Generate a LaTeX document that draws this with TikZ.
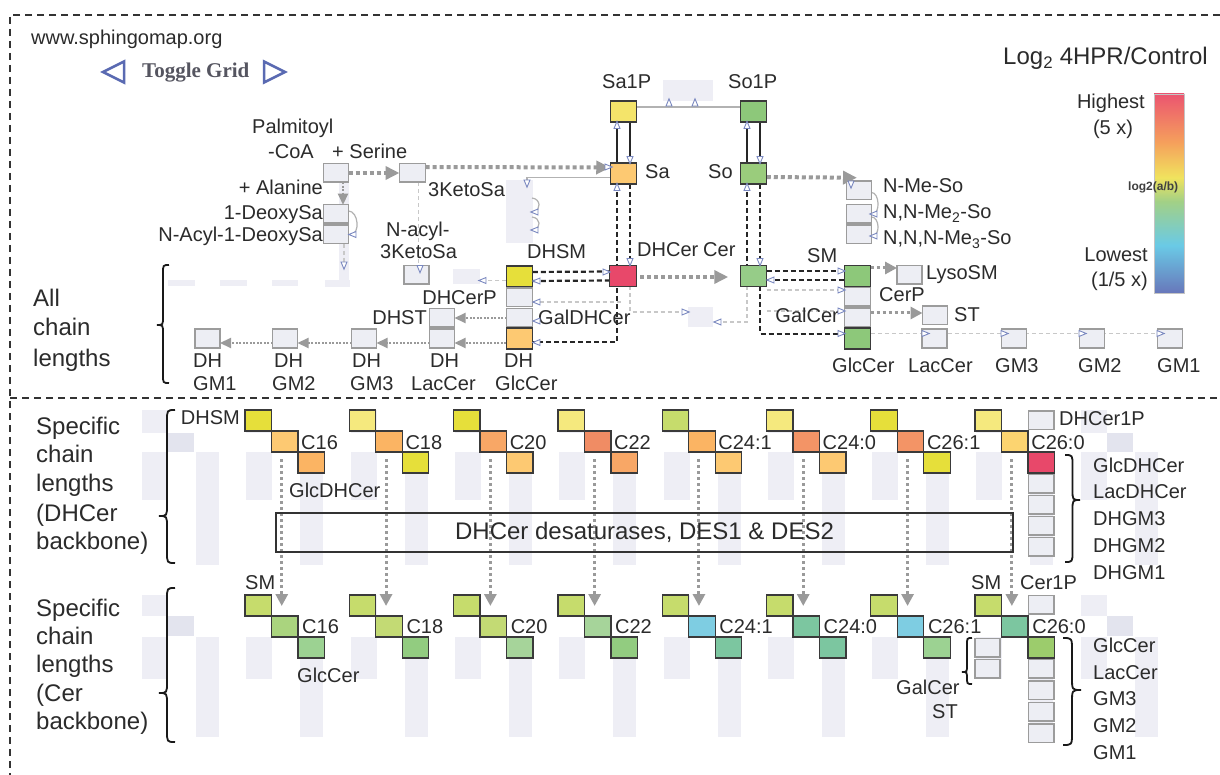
\documentclass[tikz,border=0pt]{standalone}
\usepackage{fontspec}
\setmainfont{Liberation Sans}
\newfontfamily\tgfont{Liberation Serif}
\usetikzlibrary{arrows.meta,calc}
\pgfdeclarelayer{grid}
\pgfdeclarelayer{lines}
\pgfsetlayers{grid,lines,main}
\definecolor{txt}{HTML}{2B2B2B}
\definecolor{boxline}{HTML}{3A3A3A}
\definecolor{gfill}{HTML}{EDEEF4}
\definecolor{gline}{HTML}{9C9C9C}
\definecolor{lav}{HTML}{EEEEF5}
\definecolor{lavd}{HTML}{E3E4EE}
\definecolor{fatg}{HTML}{9A9A9A}
\definecolor{lightl}{HTML}{C8C8C8}
\definecolor{tric}{HTML}{7A88C0}
\definecolor{tgc}{HTML}{5A6AB2}
\definecolor{tgt}{HTML}{555560}
\definecolor{cY}{HTML}{E6DF3A}
\definecolor{cPY}{HTML}{F5E97E}
\definecolor{cLO}{HTML}{FDC972}
\definecolor{cO}{HTML}{FBB463}
\definecolor{cOd}{HTML}{F8A766}
\definecolor{cS}{HTML}{F08C64}
\definecolor{cS2}{HTML}{F39466}
\definecolor{cLY}{HTML}{FCD470}
\definecolor{cYG}{HTML}{C6DC6C}
\definecolor{cYG2}{HTML}{C3DA74}
\definecolor{cR}{HTML}{E8486A}
\definecolor{cG}{HTML}{92CC80}
\definecolor{cG2}{HTML}{9CD292}
\definecolor{cG3}{HTML}{A6D49A}
\definecolor{cG4}{HTML}{AAD47E}
\definecolor{cC}{HTML}{7ECDE2}
\definecolor{cT}{HTML}{7CC6A0}
\definecolor{cGY}{HTML}{9CCC6C}
\definecolor{cSa1P}{HTML}{F4E46A}
\definecolor{cSo1P}{HTML}{8DC87A}
\definecolor{cSo}{HTML}{9ACC7C}
\definecolor{cCer}{HTML}{96CC88}
\definecolor{cSM}{HTML}{8DC87A}
\definecolor{cbR}{HTML}{EB5570}
\definecolor{cbO}{HTML}{F59F5C}
\definecolor{cbY}{HTML}{F0E35E}
\definecolor{cbG}{HTML}{A2D086}
\definecolor{cbC}{HTML}{6ACAE6}
\definecolor{cbB}{HTML}{6877BA}
\pgfdeclareverticalshading{cbar}{100bp}{color(0bp)=(cbB); color(25bp)=(cbB); color(37bp)=(cbC); color(48bp)=(cbG); color(54bp)=(cbY); color(63bp)=(cbO); color(75bp)=(cbR); color(100bp)=(cbR)}
\tikzset{
 cb/.style={draw=boxline, line width=1.3pt, minimum width=26.5pt, minimum height=21pt, inner sep=0pt, outer sep=0pt},
 gb/.style={draw=gline, fill=gfill, line width=1.5pt, minimum width=25pt, minimum height=18.5pt, inner sep=0pt, outer sep=0pt},
 lavn/.style={fill=lav, draw=none, inner sep=0pt, outer sep=0pt},
 lbl/.style={font=\fontsize{20}{23}\selectfont, inner sep=0pt, text=txt},
 bigl/.style={font=\fontsize{24}{28}\selectfont, inner sep=0pt, text=txt},
 ttl/.style={font=\fontsize{24}{28}\selectfont, inner sep=0pt, text=txt},
 tgf/.style={font=\tgfont\bfseries\fontsize{21}{24}\selectfont, inner sep=0pt, text=tgt},
 tgtri/.style={draw=tgc, fill=white, line width=2.5pt, line join=miter},
 fat/.style={draw=fatg, line width=4pt, dash pattern=on 4pt off 3pt, -{Triangle[length=14pt,width=13pt]}},
 midarr/.style={draw=fatg, line width=3pt, dash pattern=on 3pt off 3pt, -{Triangle[length=12pt,width=12pt]}},
 thinarr/.style={draw=fatg, line width=2.2pt, dash pattern=on 2pt off 1.5pt, -{Triangle[length=11pt,width=10pt]}},
 blk/.style={draw=black!85, line width=2.2pt, dash pattern=on 5pt off 3pt},
 lgt/.style={draw=lightl, line width=1.2pt, dash pattern=on 4pt off 3pt},
 sld/.style={draw=black!85, line width=2.2pt},
 gln/.style={draw=black!30, line width=1.2pt},
 tristyle/.style={draw=tric, fill=white, line width=0.9pt, line join=miter},
 brc/.style={draw=black!90, line width=1.8pt},
 bord/.style={draw=black!80, line width=1.3pt, dash pattern=on 7pt off 5pt}
}
\newcommand\smalltri[2]{\draw[tristyle] (#1) +(#2:4.2) -- +(#2+135:4.2) -- +(#2-135:4.2) -- cycle;}
\newcommand\mybrL[5]{\draw[brc] (#1,#2) .. controls (#1-0.5*#5,#2) .. (#1-0.5*#5,#2+0.7*#5) -- (#1-0.5*#5,#3-0.7*#5) .. controls (#1-0.5*#5,#3) .. (#1-#5,#3) .. controls (#1-0.5*#5,#3) .. (#1-0.5*#5,#3+0.7*#5) -- (#1-0.5*#5,#4-0.7*#5) .. controls (#1-0.5*#5,#4) .. (#1,#4);}
\newcommand\mybrR[5]{\draw[brc] (#1,#2) .. controls (#1+0.5*#5,#2) .. (#1+0.5*#5,#2+0.7*#5) -- (#1+0.5*#5,#3-0.7*#5) .. controls (#1+0.5*#5,#3) .. (#1+#5,#3) .. controls (#1+0.5*#5,#3) .. (#1+0.5*#5,#3+0.7*#5) -- (#1+0.5*#5,#4-0.7*#5) .. controls (#1+0.5*#5,#4) .. (#1,#4);}
\newcommand\stair[6]{%
 \node[cb, fill=#4] (#1a) at (#2+13.25,#3+10.5) {};
 \node[cb, fill=#5] (#1b) at (#2+39.75,#3+31.5) {};
 \node[cb, fill=#6] (#1c) at (#2+66.25,#3+52.5) {};}
\begin{document}
\begin{tikzpicture}[x=1pt,y=-1pt]
\useasboundingbox (0,0) rectangle (1220,775);
\begin{pgfonlayer}{grid}
\fill[white] (0,0) rectangle (1220,775);
\foreach \n in {0,...,9}{
 \pgfmathsetmacro\bx{142+104.3*\n}
 \fill[lav] (\bx,410) rectangle ++(26,23);
 \fill[lav] (\bx,452) rectangle ++(26,48);
 \fill[lavd] (\bx+26,433) rectangle ++(26,19);
 \fill[lav] (\bx+54,452) rectangle ++(23,113);
 \fill[lav] (\bx,595) rectangle ++(26,21);
 \fill[lav] (\bx,637) rectangle ++(26,42);
 \fill[lavd] (\bx+26,616) rectangle ++(26,20);
 \fill[lav] (\bx+54,637) rectangle ++(23,100);
}
\fill[lav] (168,280) rectangle (195,286);
\fill[lav] (220,280) rectangle (247,286);
\fill[lav] (272,280) rectangle (298,286);
\fill[lav] (325,280) rectangle (350,287);
\fill[lav] (339,183) rectangle (349,287);
\node[lavn, minimum width=50pt, minimum height=21pt] (lavsp) at (688,90.5) {};
\node[lavn, minimum width=27pt, minimum height=63pt] (lavtop) at (519.5,211.5) {};
\node[lavn, minimum width=25pt, minimum height=20pt] (lavmid) at (700.5,317) {};
\node[lavn, minimum width=27pt, minimum height=15pt] (lavdh) at (466.5,276.5) {};
\end{pgfonlayer}
% frame
\draw[bord] (1220,15) -- (10,15) -- (10,775);
\draw[bord] (10,398) -- (1220,398);
% header
\node[lbl, anchor=base west] (url) at (31,45) {www.sphingomap.org};
\node[tgf, anchor=base west] (tg) at (142,78) {Toggle Grid};
\draw[tgtri] (103,72) -- (124,61.5) -- (124,82.5) -- cycle;
\draw[tgtri] (285,72) -- (264,61.5) -- (264,82.5) -- cycle;
\node[ttl, anchor=base west] (title) at (1003,65) {Log\textsubscript{2} 4HPR/Control};
\shade[shading=cbar] (1154,94) rectangle (1184,293);
\draw[gline!60, line width=0.6pt] (1154,94) rectangle (1184,293);
\node[lbl, anchor=base east] (hi1) at (1145,109) {Highest};
\node[lbl, anchor=base] (hi2) at (1113,135) {(5 x)};
\node[lbl, anchor=base east] (lo1) at (1148,262) {Lowest};
\node[lbl, anchor=base east] (lo2) at (1148,287) {(1/5 x)};
\node[font=\bfseries\fontsize{12}{14}\selectfont, text=black!75, anchor=base west, inner sep=0pt] (lg) at (1128,191) {log2(a/b)};
% top nodes
\node[gb] (palm) at (336,173) {};
\node[gb, minimum width=26pt] (keto) at (412.5,173) {};
\node[gb] (deoxy) at (336,214) {};
\node[gb] (nadeoxy) at (336,234.5) {};
\node[gb] (naketo) at (416.5,275) {};
\node[cb, fill=cSa1P] (sa1p) at (623.5,111.5) {};
\node[cb, fill=cSo1P] (so1p) at (753.5,111.5) {};
\node[cb, fill=cLO] (sa) at (623.5,173.5) {};
\node[cb, fill=cSo] (so) at (753.5,173.5) {};
\node[cb, fill=cR] (dhcer) at (623,276) {};
\node[cb, fill=cCer] (cer) at (753.5,276) {};
\node[cb, fill=cY] (dhsm) at (519.5,276.5) {};
\node[gb, minimum width=26pt] (dhcerp) at (519.5,297.5) {};
\node[gb, minimum width=26pt] (galdhcer) at (519.5,318) {};
\node[cb, fill=cLO] (dhglc) at (519.5,338.5) {};
\node[gb] (dhst) at (442,318) {};
\node[gb] (dhlac) at (442,338.5) {};
\node[gb] (dhgm3) at (364,338.5) {};
\node[gb] (dhgm2) at (285,338.5) {};
\node[gb] (dhgm1) at (207.5,338.5) {};
\node[cb, fill=cSM] (sm) at (857.5,276) {};
\node[gb, minimum width=26pt] (cerp) at (857.5,297) {};
\node[gb, minimum width=26pt] (galcer) at (857.5,317.5) {};
\node[cb, fill=cSM] (glccer) at (857.5,338.5) {};
\node[gb] (lysosm) at (909.5,275) {};
\node[gb] (st) at (935,315.5) {};
\node[gb] (lac) at (934.5,338.5) {};
\node[gb] (gm3) at (1014,338.5) {};
\node[gb] (gm2) at (1092,338.5) {};
\node[gb] (gm1) at (1170,338.5) {};
\node[gb] (nmeso) at (859,190.5) {};
\node[gb] (nnme) at (859,214) {};
\node[gb] (nnnme) at (859,234.5) {};
\coordinate (nmtip) at ($(nmeso.north)+(-2,-3.5)$);
% top labels
\node[lbl, anchor=base west] (lpalm1) at (252,134) {Palmitoyl};
\node[lbl, anchor=base west] (lpalm2) at (268,159) {-CoA};
\node[lbl, anchor=base west] (lser) at (332,159) {+ Serine};
\node[lbl, anchor=base east] (lala) at (323,195) {+ Alanine};
\node[lbl, anchor=base east] (ldeoxy) at (323,220) {1-DeoxySa};
\node[lbl, anchor=base east] (lnadeoxy) at (323,242) {N-Acyl-1-DeoxySa};
\node[lbl, anchor=base west] (lketo) at (428,197) {3KetoSa};
\node[lbl, anchor=base west] (lnak1) at (386,237) {N-acyl-};
\node[lbl, anchor=base west] (lnak2) at (380,259) {3KetoSa};
\node[lbl, anchor=base west] (lsa1p) at (602,89) {Sa1P};
\node[lbl, anchor=base west] (lso1p) at (728,89) {So1P};
\node[lbl, anchor=base west] (lsa) at (645,179) {Sa};
\node[lbl, anchor=base west] (lso) at (708,179) {So};
\node[lbl, anchor=base west] (ldhsm) at (527,259) {DHSM};
\node[lbl, anchor=base west] (ldhcer) at (637,257) {DHCer};
\node[lbl, anchor=base west] (lcer) at (703,257) {Cer};
\node[lbl, anchor=base east] (ldhcerp) at (497,305) {DHCerP};
\node[lbl, anchor=base east] (ldhst) at (427,325) {DHST};
\node[lbl, anchor=base west] (lgaldh) at (538,324) {GalDHCer};
\node[lbl, anchor=base west] (ldh1) at (193,367) {DH};
\node[lbl, anchor=base west] (lgm1d) at (193,390) {GM1};
\node[lbl, anchor=base west] (ldh2) at (274,367) {DH};
\node[lbl, anchor=base west] (lgm2d) at (272,390) {GM2};
\node[lbl, anchor=base west] (ldh3) at (352,367) {DH};
\node[lbl, anchor=base west] (lgm3d) at (350,390) {GM3};
\node[lbl, anchor=base west] (ldh4) at (430,367) {DH};
\node[lbl, anchor=base west] (llacd) at (411,390) {LacCer};
\node[lbl, anchor=base west] (ldh5) at (504,367) {DH};
\node[lbl, anchor=base west] (lglcd) at (495,390) {GlcCer};
\node[lbl, anchor=base west] (lsm) at (807,263) {SM};
\node[lbl, anchor=base west] (lcerp) at (879,302) {CerP};
\node[lbl, anchor=base east] (lgalcer) at (839,323) {GalCer};
\node[lbl, anchor=base west] (llyso) at (926,280) {LysoSM};
\node[lbl, anchor=base west] (lst) at (954,322) {ST};
\node[lbl, anchor=base west] (lglccer) at (832,372) {GlcCer};
\node[lbl, anchor=base west] (llac) at (908,372) {LacCer};
\node[lbl, anchor=base west] (lgm3) at (995,372) {GM3};
\node[lbl, anchor=base west] (lgm2) at (1078,372) {GM2};
\node[lbl, anchor=base west] (lgm1) at (1157,372) {GM1};
\node[lbl, anchor=base west] (lnme) at (883,193) {N-Me-So};
\node[lbl, anchor=base west] (lnnme) at (883,219) {N,N-Me\textsubscript{2}-So};
\node[lbl, anchor=base west] (lnnnme) at (883,245) {N,N,N-Me\textsubscript{3}-So};
% section labels
\node[bigl, anchor=base west] (ta1) at (33,307) {All};
\node[bigl, anchor=base west] (ta2) at (33,336) {chain};
\node[bigl, anchor=base west] (ta3) at (33,366) {lengths};
\node[bigl, anchor=base west] (tb1) at (36,434) {Specific};
\node[bigl, anchor=base west] (tb2) at (36,462) {chain};
\node[bigl, anchor=base west] (tb3) at (36,491) {lengths};
\node[bigl, anchor=base west] (tb4) at (36,521) {(DHCer};
\node[bigl, anchor=base west] (tb5) at (36,549) {backbone)};
\node[bigl, anchor=base west] (tc1) at (36,616) {Specific};
\node[bigl, anchor=base west] (tc2) at (36,644) {chain};
\node[bigl, anchor=base west] (tc3) at (36,672) {lengths};
\node[bigl, anchor=base west] (tc4) at (36,701) {(Cer};
\node[bigl, anchor=base west] (tc5) at (36,729) {backbone)};
\mybrL{169}{265}{325}{383}{12}
\mybrL{175}{410}{516}{563}{16}
\mybrL{175}{588}{693}{742}{16}
\mybrL{972}{638}{672}{684}{10}
\mybrR{1065}{455}{500}{562}{15}
\mybrR{1063}{638}{690}{745}{18}
% staircases
\stair{d1}{245}{410}{cY}{cLO}{cO}
\stair{d2}{349.3}{410}{cPY}{cO}{cY}
\stair{d3}{453.6}{410}{cY}{cOd}{cLO}
\stair{d4}{557.9}{410}{cPY}{cS}{cOd}
\stair{d5}{662.2}{410}{cYG}{cO}{cLO}
\stair{d6}{766.5}{410}{cPY}{cS2}{cLO}
\stair{d7}{870.8}{410}{cY}{cS2}{cY}
\stair{d8}{975.1}{410}{cPY}{cLY}{cR}
\stair{c1}{245}{595}{cYG}{cG4}{cG2}
\stair{c2}{349.3}{595}{cYG}{cYG2}{cG}
\stair{c3}{453.6}{595}{cYG}{cYG2}{cG3}
\stair{c4}{557.9}{595}{cYG}{cG3}{cG}
\stair{c5}{662.2}{595}{cYG}{cC}{cT}
\stair{c6}{766.5}{595}{cYG}{cT}{cT}
\stair{c7}{870.8}{595}{cYG}{cC}{cG2}
\stair{c8}{975.1}{595}{cYG}{cT}{cGY}
\foreach \n/\t in {1/C16,2/C18,3/C20,4/C22,5/C24:1,6/C24:0,7/C26:1,8/C26:0}{
 \node[lbl, anchor=base west] (dl\n) at ($(d\n b.east)+(3,7.5)$) {\t};
 \node[lbl, anchor=base west] (cl\n) at ($(c\n b.east)+(4,7)$) {\t};
}
\node[gb, minimum width=25.5pt] (dhc1p) at (1041.35,420) {};
\foreach \n/\yy in {1/483.5,2/504.5,3/525.5,4/546.5} \node[gb, minimum width=25.5pt] (dcol\n) at (1041.35,\yy) {};
\node[gb, minimum width=25.5pt] (cer1p) at (1041.35,604.5) {};
\foreach \n/\yy in {1/668.5,2/690,3/711.5,4/733} \node[gb, minimum width=25.5pt] (ccol\n) at (1041.35,\yy) {};
\node[gb] (galc2) at (987.5,647.5) {};
\node[gb] (st2) at (987.5,668.5) {};
\node[draw=black!80, line width=1.2pt, minimum width=737pt, minimum height=39pt, inner sep=0pt, font=\fontsize{24}{28}\selectfont, text=txt] (desat) at (644.5,532.5) {DHCer desaturases, DES1 \& DES2};
\node[lbl, anchor=base east] (ldsm) at (240,424) {DHSM};
\node[lbl, anchor=base west] (lglcdh) at (289,497) {GlcDHCer};
\node[lbl, anchor=base west] (lsm1) at (245,589) {SM};
\node[lbl, anchor=base west] (lsm2) at (971,589) {SM};
\node[lbl, anchor=base west] (lcer1p) at (1020,589) {Cer1P};
\node[lbl, anchor=base west] (ldhc1p) at (1059,425) {DHCer1P};
\node[lbl, anchor=base west] (lglcc2) at (297,682) {GlcCer};
\node[lbl, anchor=base west] (lgalc2) at (896,694) {GalCer};
\node[lbl, anchor=base west] (lst2) at (932,718) {ST};
\foreach \n/\t/\yy in {1/GlcDHCer/472,2/LacDHCer/498,3/DHGM3/525,4/DHGM2/552,5/DHGM1/579} \node[lbl, anchor=base west] (dcl\n) at (1093,\yy) {\t};
\foreach \n/\t/\yy in {1/GlcCer/652,2/LacCer/679,3/GM3/705,4/GM2/732,5/GM1/759} \node[lbl, anchor=base west] (ccl\n) at (1093,\yy) {\t};
% connectors
\begin{pgfonlayer}{lines}
\draw[fat] (palm.east) -- (keto.west);
\draw[fat] ([yshift=6pt]keto.east) -- ([yshift=6pt]sa.west);
\draw[thinarr] ($(palm.south)+(7,0)$) -- ($(deoxy.north)+(7,0)$);
\draw[gln] ($(deoxy.east)+(0,-3)$) .. controls +(10,0) and +(10,0) .. ($(nadeoxy.east)+(2,0)$);
\draw[lgt] ($(nadeoxy.south)+(8,0)$) -- ++(0,24);
\draw[lgt] ($(keto.south)+(6,0)$) -- ($(naketo.north)+(2,0)$);
\draw[gln] ($(sa.west)+(0,4)$) -| ($(lavtop.north)+(7.5,0)$);
\draw[gln] (532,198) .. controls (541,199) and (541,210) .. (534,212);
\draw[gln] (532,217) .. controls (541,218) and (541,228) .. (534,230);
\draw[gln] ($(sa1p.east)+(0,-4.5)$) -- ($(so1p.west)+(0,-4.5)$);
\draw[sld] ($(sa1p.south)+(-6.5,0)$) -- ($(sa.north)+(-6.5,0)$);
\draw[sld] ($(sa1p.south)+(6.5,0)$) -- ($(sa.north)+(6.5,0)$);
\draw[sld] ($(so1p.south)+(-6.5,0)$) -- ($(so.north)+(-6.5,0)$);
\draw[sld] ($(so1p.south)+(6.5,0)$) -- ($(so.north)+(6.5,0)$);
\draw[blk] ($(sa.south)+(6.5,0)$) -- ($(dhcer.north)+(7,0)$);
\draw[blk] ($(sa.south)+(-6.5,0)$) |- ($(dhglc.east)+(0,3.5)$);
\draw[blk] ($(so.south)+(-6.5,0)$) -- ($(cer.north)+(-6.5,0)$);
\draw[blk] ($(so.south)+(6.5,0)$) -- ($(cer.north)+(6.5,0)$);
\draw[blk] ($(cer.south)+(6.5,0)$) |- ($(glccer.west)+(0,-4.5)$);
\draw[blk] ($(dhsm.east)+(0,-4.5)$) -- ($(dhcer.west)+(0,-4.5)$);
\draw[blk] ($(dhsm.east)+(0,4.5)$) -- ($(dhcer.west)+(0,4.5)$);
\draw[blk] ($(cer.east)+(0,-5)$) -- ($(sm.west)+(0,-5)$);
\draw[blk] ($(cer.east)+(0,4)$) -- ($(sm.west)+(0,4)$);
\draw[fat] ($(dhcer.east)+(4,1)$) -- ($(cer.west)+(-12,1)$);
\coordinate (dcpy) at ($(dhcerp.east)+(0,4.5)$);
\draw[lgt] (dcpy) -- (dhcer.south |- dcpy);
\draw[lgt] ($(dhcer.south)+(7,0)$) |- ($(lavmid.west)+(0,-5)$);
\draw[lgt] ($(cer.south)+(-6.5,0)$) |- ($(lavmid.east)+(0,5)$);
\coordinate (cpy) at ($(cerp.west)+(0,-7)$);
\draw[lgt] (cer.east |- cpy) -- (cpy);
\coordinate (gcy) at ($(galcer.west)+(0,-6.5)$);
\draw[lgt] (cer.south east |- gcy) -- (gcy);
\draw[lgt] ($(dhsm.west)+(0,4)$) -- ($(lavdh.east)+(0,4)$);
\draw[lgt] ($(glccer.east)+(0,-5)$) -- ($(gm1.west)+(0,-5)$);
\draw[midarr] ($(sm.east)+(0,-8)$) -- ($(lysosm.west)+(0,-7)$);
\draw[midarr] ($(galcer.east)+(0,-4.5)$) -- ($(st.west)+(0,-2.5)$);
\draw[fat] (so.east) ++(0,3.5) -- (nmtip);
\draw[gln] ($(nmeso.east)+(0,2)$) .. controls +(8,0) and +(8,0) .. ($(nnme.east)+(1,0)$);
\draw[gln] ($(nnme.east)+(0,3)$) .. controls +(8,0) and +(8,0) .. ($(nnnme.east)+(1,1)$);
\draw[thinarr] ($(dhglc.west)+(0,4.5)$) -- ($(dhlac.east)+(0,4.5)$);
\draw[thinarr] ($(dhlac.west)+(0,4.5)$) -- ($(dhgm3.east)+(0,4.5)$);
\draw[thinarr] ($(dhgm3.west)+(0,4.5)$) -- ($(dhgm2.east)+(0,4.5)$);
\draw[thinarr] ($(dhgm2.west)+(0,4.5)$) -- ($(dhgm1.east)+(0,4.5)$);
\draw[thinarr] (galdhcer.west) -- (dhst.east);
\foreach \n in {1,...,8} \draw[midarr] ($(d\n b.south)+(-3,7)$) -- ($(c\n b.north)+(-3,-10)$);
\end{pgfonlayer}
% small open triangles
\smalltri{669,103}{270} \smalltri{695,103}{270}
\smalltri{617,125.5}{270} \smalltri{630,159.5}{90}
\smalltri{747,125.5}{270} \smalltri{760,159.5}{90}
\smalltri{608,167}{0}
\smalltri{617,187.5}{270} \smalltri{630,261.5}{90}
\smalltri{747,187.5}{270} \smalltri{760,261.5}{90}
\smalltri{606,272}{0} \smalltri{537,281}{180}
\smalltri{537,342.5}{180} \smalltri{537,302}{180} \smalltri{537,321}{180}
\smalltri{685,312}{0} \smalltri{718,322}{180}
\smalltri{771,280}{180} \smalltri{841,271}{0} \smalltri{841,290}{0} \smalltri{841,311}{0} \smalltri{841,333.5}{0}
\smalltri{925,333.5}{0} \smalltri{1004,333.5}{0} \smalltri{1082,333.5}{0} \smalltri{1160,333.5}{0}
\smalltri{527,183}{90} \smalltri{535,212}{180} \smalltri{535,230}{180}
\smalltri{353,234.5}{180} \smalltri{344,265}{90} \smalltri{420,268.5}{90} \smalltri{483,280.5}{180}
\smalltri{851,184}{90} \smalltri{874,214}{180} \smalltri{874,236}{180}
\end{tikzpicture}
\end{document}
